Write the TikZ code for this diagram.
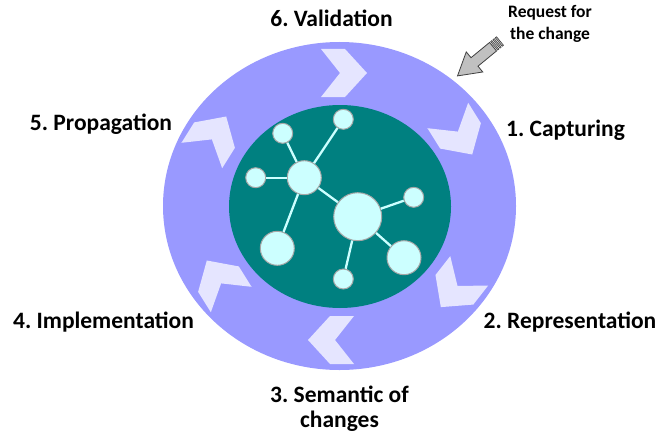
\documentclass[tikz,border=0pt]{standalone}
\usepackage{fontspec}
\setmainfont{Carlito}
\frenchspacing
\definecolor{ring}{HTML}{9999FF}
\definecolor{core}{HTML}{008080}
\definecolor{chev}{HTML}{E5E5FF}
\definecolor{ball}{HTML}{CCFFFF}
\definecolor{ballrim}{HTML}{A6A6A6}
\definecolor{arrowgray}{HTML}{C0C0C0}
\definecolor{arrowrim}{HTML}{404040}
\tikzset{
  lab/.style={font=\fontsize{23.5}{25}\selectfont\bfseries, anchor=base, inner sep=0pt, align=center},
  reqlab/.style={font=\fontsize{17.5}{22}\selectfont\bfseries, anchor=base, inner sep=0pt, align=center},
  ballnode/.style={circle, fill=ball, draw=ballrim, line width=1pt, inner sep=0pt, minimum size=#1},
  link/.style={draw=ball, line width=2.3pt},
  chevshape/.style={fill=chev},
  arrowpart/.style={fill=arrowgray, draw=arrowrim, line width=0.8pt, line join=miter},
}
\newcommand{\chevronat}[3]{%
  \fill[chevshape, shift={(#1,#2)}, rotate=#3]
    (-23,-24) -- (1,-24) -- (23,0) -- (1,24) -- (-23,24) -- (-4,0) -- cycle;}
\begin{document}
\begin{tikzpicture}[x=1pt,y=-1pt]
\useasboundingbox (0,0) rectangle (660,436);
% rings
\fill[ring] (339.5,206) ellipse [x radius=176.5pt, y radius=164pt];
\fill[core] (340,206.5) ellipse [x radius=111pt, y radius=101.5pt];
% chevrons
\chevronat{344}{73}{0}
\chevronat{460}{135}{-58}
\chevronat{455}{289}{-128}
\chevronat{331}{340}{180}
\chevronat{219}{280}{122}
\chevronat{214}{136}{58}
% network
\node[ballnode=20pt] (n1) at (282.7,133.3) {};
\node[ballnode=20pt] (n2) at (343.3,119.3) {};
\node[ballnode=20pt] (n3) at (255.7,177.7) {};
\node[ballnode=34pt] (n4) at (304.3,177.7) {};
\node[ballnode=48pt] (n5) at (357.7,216.7) {};
\node[ballnode=20pt] (n6) at (413.7,197.3) {};
\node[ballnode=34pt] (n7) at (277.3,248.3) {};
\node[ballnode=20pt] (n8) at (343.3,279) {};
\node[ballnode=34pt] (n9) at (404,257.7) {};
\draw[link] (n4) -- (n1);
\draw[link] (n4) -- (n2);
\draw[link] (n4) -- (n3);
\draw[link] (n4) -- (n7);
\draw[link] (n4) -- (n5);
\draw[link] (n5) -- (n6);
\draw[link] (n5) -- (n8);
\draw[link] (n5) -- (n9);
% labels
\node[lab] (l6) at (331.5,27) {6. Validation};
\node[lab] (l5) at (101,130) {5. Propagation};
\node[lab] (l1) at (565.5,136) {1. Capturing};
\node[lab] (l2) at (570,328) {2. Representation};
\node[lab] (l4) at (103.5,328) {4. Implementation};
\node[lab] (l3) at (339.5,427) {3. Semantic of\\changes};
\node[reqlab] (req) at (550,40) {Request for\\the change};
% request arrow (striped block arrow)
\coordinate (tail) at (500,41);
\begin{scope}[shift={(tail)}, rotate=219.4]
  \filldraw[arrowpart]
    (9,-5.5) -- (33,-5.5) -- (33,-13) -- (55,0) -- (33,13) -- (33,5.5) -- (9,5.5) -- cycle;
  \filldraw[arrowpart, line width=0.6pt] (0,-5.5) rectangle (1.6,5.5);
  \filldraw[arrowpart, line width=0.6pt] (3,-5.5) rectangle (4.6,5.5);
  \filldraw[arrowpart, line width=0.6pt] (6,-5.5) rectangle (7.6,5.5);
\end{scope}
\end{tikzpicture}
\end{document}
